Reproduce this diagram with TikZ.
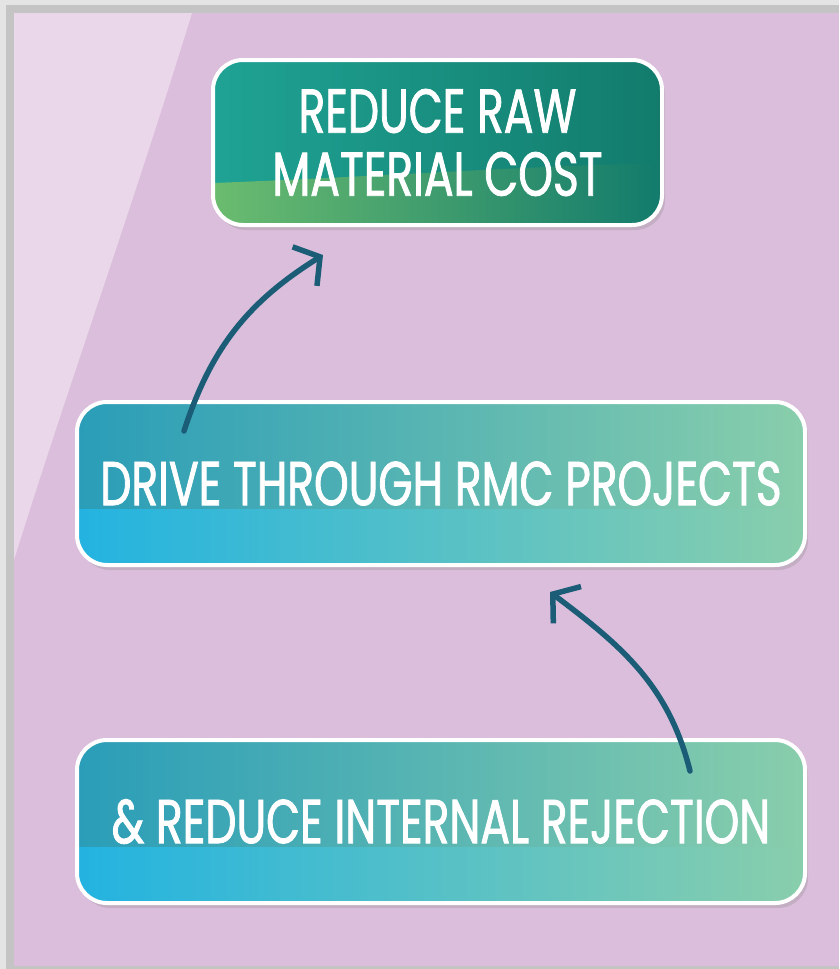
\documentclass[tikz,border=0pt]{standalone}
\usepackage{fontspec}
\newfontfamily\boxfont{Poppins}[FakeStretch=0.71,FakeBold=1.3]
\usetikzlibrary{arrows.meta,shadows}
\definecolor{frame}{HTML}{C4C4C4}
\definecolor{frameedge}{HTML}{E4E4E4}
\definecolor{panel}{HTML}{DBBEDB}
\definecolor{glare}{HTML}{EAD8EA}
\definecolor{arrowink}{HTML}{1B5D77}
\definecolor{goalL}{HTML}{1FA394}
\definecolor{goalR}{HTML}{127B6C}
\definecolor{goalgreen}{HTML}{6BBC6F}
\definecolor{actL}{HTML}{2A9DB8}
\definecolor{actR}{HTML}{89CEAC}
\definecolor{actband}{HTML}{23B3E1}
\tikzset{
  box/.style={draw=white, line width=4pt, rounded corners=30pt,
    text=white, align=center, inner sep=0pt,
    font=\boxfont\fontsize{62}{63}\selectfont,
    drop shadow={opacity=.25, shadow xshift=3pt, shadow yshift=-5pt}},
  goalbox/.style={box, left color=goalL, right color=goalR,
    path picture={
      \shade[sharp corners, left color=goalgreen, right color=goalR]
        (path picture bounding box.south west)
        -- ([yshift=42pt]path picture bounding box.south west)
        .. controls +(160pt,6pt) and +(-160pt,-4pt) ..
        ([yshift=62pt]path picture bounding box.south east)
        -- (path picture bounding box.south east) -- cycle;}},
  actionbox/.style={box, left color=actL, right color=actR,
    path picture={
      \shade[sharp corners, left color=actband, right color=actR]
        (path picture bounding box.south west)
        rectangle ([yshift=56pt]path picture bounding box.south east);}},
  flowarrow/.style={draw=arrowink, line width=5.5pt, line cap=round,
    -{Straight Barb[length=18pt, width=46pt, line width=5.5pt]}}
}

\begin{document}
\begin{tikzpicture}[x=1pt,y=-1pt]

% frame and panel
\fill[frameedge] (0,0) rectangle (839,969);
\fill[frame] (6,5) rectangle (839,969);
\fill[panel] (14,13) rectangle (839,966);
\fill[glare] (14,13) -- (192,13) .. controls (125,230) and (70,380) .. (14,560) -- cycle;

% the three steps
\node[goalbox, minimum width=449pt, minimum height=165pt] (cost) at (437.5,142.5)
  {REDUCE RAW\\MATERIAL COST};
\node[actionbox, minimum width=728pt, minimum height=163pt] (drive) at (441,483.5)
  {DRIVE THROUGH RMC PROJECTS};
\node[actionbox, minimum width=728pt, minimum height=163pt] (reject) at (441,821.5)
  {\& REDUCE INTERNAL REJECTION};

% arrows going up
\draw[flowarrow] ([xshift=109pt,yshift=-31pt]drive.north west)
  to[out=72,in=212] ([xshift=112pt,yshift=-28pt]cost.south west);
\draw[flowarrow] ([xshift=-117pt,yshift=-33pt]reject.north east)
  to[out=104,in=323] ([xshift=109pt,yshift=-25pt]drive.south);

\end{tikzpicture}
\end{document}
